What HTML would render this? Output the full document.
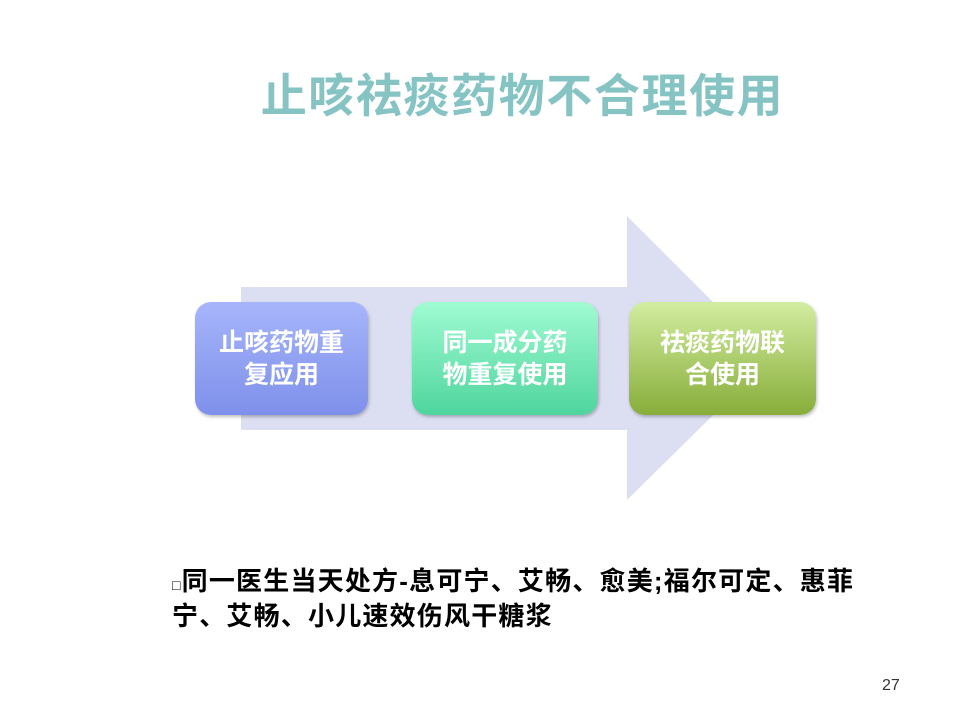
<!DOCTYPE html>
<html><head><meta charset="utf-8"><style>
body{margin:0;width:960px;height:720px;background:#fff;position:relative;overflow:hidden;font-family:"Liberation Sans","Noto Sans CJK SC",sans-serif}
.t{position:absolute;left:0;width:1045px;text-align:center;top:60px;font-size:46px;color:#86c3c3;font-weight:bold;letter-spacing:1.6px}
.b{position:absolute;border-radius:16px;color:#fff;font-size:25px;font-weight:bold;text-align:center;line-height:32px;box-shadow:1px 2px 3px rgba(0,0,0,.25);display:flex;align-items:center;justify-content:center}
.p{position:absolute;left:172px;top:566px;font-size:26px;line-height:31px;color:#000;font-weight:bold;width:740px;letter-spacing:1.2px}
</style></head><body>
<div class="t">止咳祛痰药物不合理使用</div>
<svg style="position:absolute;left:0;top:0" width="960" height="720">
<polygon points="241,287 627,287 627,216 770,359 627,500 627,430 241,430" fill="#dcdef2"/>
</svg>
<div class="b" style="left:195px;top:302px;width:173px;height:113px;background:linear-gradient(#a7b5fb,#7e90ea)"><div>止咳药物重<br>复应用</div></div>
<div class="b" style="left:412px;top:302px;width:186px;height:113px;background:linear-gradient(#a0fbd3,#4fd59e)"><div>同一成分药<br>物重复使用</div></div>
<div class="b" style="left:629px;top:302px;width:187px;height:113px;background:linear-gradient(#d2eda0,#88ad3a)"><div>祛痰药物联<br>合使用</div></div>
<div class="p"><span style="font-size:14px">□</span>同一医生当天处方-息可宁、艾畅、愈美;福尔可定、惠菲<br>宁、艾畅、小儿速效伤风干糖浆</div>
<div style="position:absolute;left:882px;top:677px;font-size:16px;color:#333">27</div>
</body></html>
